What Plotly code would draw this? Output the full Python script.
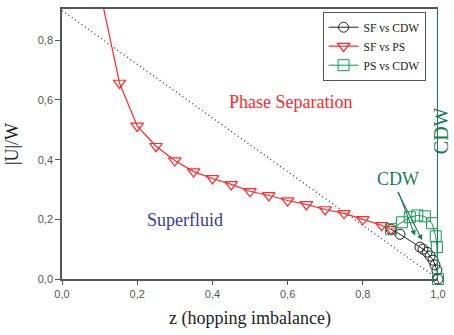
import plotly.graph_objects as go

# SF vs PS boundary (red, down triangles)
sfps_z = [0.10, 0.153, 0.20, 0.25, 0.30, 0.35, 0.40, 0.45, 0.50, 0.55, 0.60, 0.65, 0.70, 0.75, 0.80, 0.85, 0.875]
sfps_u = [0.97, 0.657, 0.513, 0.445, 0.397, 0.36, 0.337, 0.317, 0.294, 0.28, 0.263, 0.25, 0.233, 0.22, 0.20, 0.18, 0.167]

# SF vs CDW boundary (black, circles)
sfcdw_z = [0.875, 0.899, 0.952, 0.960, 0.971, 0.979, 0.987, 0.992, 0.997, 1.0]
sfcdw_u = [0.167, 0.15, 0.107, 0.100, 0.09, 0.077, 0.063, 0.047, 0.03, 0.0]

# PS vs CDW boundary (green, squares)
pscdw_z = [0.875, 0.904, 0.925, 0.945, 0.965, 0.984, 0.994, 0.997, 1.0]
pscdw_u = [0.167, 0.19, 0.207, 0.213, 0.21, 0.187, 0.143, 0.107, 0.0]

# dotted reference line and CDW line at z=1
dot_z = [0.0, 1.0]
dot_u = [0.9, 0.0]
cdw_z = [1.0, 1.0]
cdw_u = [0.0, 1.0]

y_ticks = [0.0, 0.2, 0.4, 0.6, 0.8]
x_ticks = [0.0, 0.2, 0.4, 0.6, 0.8, 1.0]

RED = "#ff2a2a"
GREEN = "#119a55"
DGREEN = "#1a7a55"
SERIF = "'Liberation Serif', 'Times New Roman', Times, serif"
SANS = "'Liberation Sans', Arial, Helvetica, sans-serif"

fig = go.Figure()
fig.add_trace(go.Scatter(x=dot_z, y=dot_u, mode="lines",
                         line=dict(color="#444444", width=1.4, dash="1px,3px"),
                         showlegend=False, hoverinfo="skip"))
fig.add_trace(go.Scatter(x=cdw_z, y=cdw_u, mode="lines",
                         line=dict(color=DGREEN, width=2),
                         showlegend=False, hoverinfo="skip"))
fig.add_trace(go.Scatter(x=sfcdw_z, y=sfcdw_u, mode="lines+markers", name="SF vs CDW",
                         line=dict(color="#222222", width=1),
                         marker=dict(symbol="circle-open", size=10, color="#222222", line=dict(width=1)),
                         cliponaxis=False))
fig.add_trace(go.Scatter(x=sfps_z, y=sfps_u, mode="lines+markers", name="SF vs PS",
                         line=dict(color=RED, width=1.2),
                         marker=dict(symbol="triangle-down-open", size=11, color=RED, line=dict(width=1.2)),
                         cliponaxis=True))
fig.add_trace(go.Scatter(x=pscdw_z, y=pscdw_u, mode="lines+markers", name="PS vs CDW",
                         line=dict(color=GREEN, width=1),
                         marker=dict(symbol="square-open", size=11, color=GREEN, line=dict(width=1)),
                         cliponaxis=False))

annotations = [
    dict(x=0.607, y=0.593, xref="x", yref="y", text="Phase Separation", showarrow=False,
         font=dict(family=SERIF, size=18, color=RED)),
    dict(x=0.328, y=0.197, xref="x", yref="y", text="Superfluid", showarrow=False,
         font=dict(family=SERIF, size=18, color="#3a3aa0")),
    dict(x=0.894, y=0.335, xref="x", yref="y", text="CDW", showarrow=False,
         font=dict(family=SERIF, size=18, color=DGREEN)),
    dict(x=0.958, y=0.13, xref="x", yref="y", ax=0.891, ay=0.297, axref="x", ayref="y",
         text="", showarrow=True, arrowhead=2, arrowsize=1, arrowwidth=1.1, arrowcolor=DGREEN),
    dict(x=0.939, y=0.145, xref="x", yref="y", ax=0.893, ay=0.297, axref="x", ayref="y",
         text="", showarrow=True, arrowhead=2, arrowsize=1, arrowwidth=1.1, arrowcolor=DGREEN),
    dict(x=1.043, y=0.548, xref="paper", yref="paper", text="CDW", showarrow=False, textangle=-90,
         xanchor="right", yanchor="middle",
         font=dict(family=SERIF, size=20, color=DGREEN)),
]

fig.update_layout(
    width=454, height=335,
    margin=dict(l=62, r=16, t=7, b=56),
    paper_bgcolor="white", plot_bgcolor="white",
    separators=",.",
    annotations=annotations,
    legend=dict(x=0.693, y=0.99, xanchor="left", yanchor="top",
                bordercolor="#555555", borderwidth=1, bgcolor="white",
                font=dict(family=SERIF, size=11.5, color="#222222"),
                itemwidth=30, tracegroupgap=0),
    xaxis=dict(range=[0, 1.0], tickvals=x_ticks, tickformat=".1f",
               showgrid=False, zeroline=False, showline=True, mirror=True,
               linecolor="#555555", linewidth=1.5, ticks="outside", ticklen=4,
               tickcolor="#555555", tickfont=dict(family=SANS, size=11, color="#555555"),
               title=dict(text="z (hopping imbalance)", font=dict(family=SERIF, size=18, color="#222222"),
                          standoff=12)),
    yaxis=dict(range=[0, 0.905], tickvals=y_ticks, tickformat=".1f",
               showgrid=False, zeroline=False, showline=True, mirror=False,
               linecolor="#555555", linewidth=1.5, ticks="outside", ticklen=5,
               tickcolor="#555555", tickfont=dict(family=SANS, size=11, color="#555555"),
               title=dict(text="|U|/W", font=dict(family=SERIF, size=18, color="#222222"),
                          standoff=14)),
)

fig.write_html("out.html", config={"displayModeBar": False},
               post_script="document.body.style.margin='0';document.body.style.overflow='hidden';")
